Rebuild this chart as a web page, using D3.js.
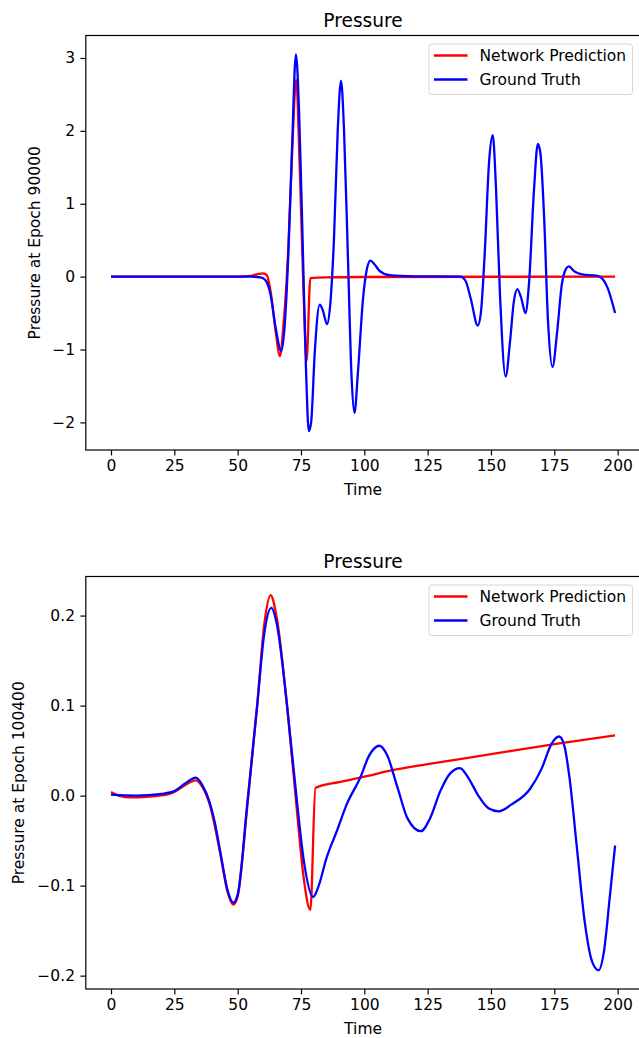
<!DOCTYPE html>
<html>
<head>
<meta charset="utf-8">
<script src="https://cdn.jsdelivr.net/npm/d3@7"></script>
<style>
  body { margin: 0; background: #fff; }
  svg text { font-family: "DejaVu Sans", sans-serif; fill: #000; }
</style>
</head>
<body>
<div id="chart"></div>
<script>
// x ticks shared by both panels
var timeTicks = [0, 25, 50, 75, 100, 125, 150, 175, 200];
var seriesNames = ["Network Prediction", "Ground Truth"];

// panel 1 (epoch 90000)
var topPredT = [0, 50, 55, 58, 60, 61.5, 63, 65, 66.7, 68, 70, 71.5, 73.1, 74.5, 76, 77.2, 78.7, 85, 100, 199];
var topPredV = [0, 0, 0.01, 0.035, 0.045, 0.02, -0.2, -0.75, -1.09, -0.7, 0.4, 1.7, 2.70, 1.5, -0.2, -1.16, -0.02, -0.01, -0.005, 0];
var topTruthT = [0, 55, 59, 61, 63, 65, 67.2, 68.5, 70, 71.5, 73, 74.3, 75.5, 77, 78.1, 79, 80.5, 82.4, 83.5, 85.3, 86.5, 88, 89.5, 90.8, 92, 93.5, 95, 96.1, 97.5, 99.5, 101, 102.4, 104, 106, 110, 120, 138, 140, 142, 144.8, 146, 147.5, 149.3, 150.7, 152, 153.5, 155.8, 157.5, 159, 160.4, 162, 163.6, 165, 167, 168.5, 169.5, 171, 172.5, 174.3, 176, 178, 179.5, 180.7, 183, 186, 192, 194, 196, 199];
var topTruthV = [0, 0, -0.01, -0.05, -0.25, -0.7, -1.02, -0.7, 0.3, 1.8, 3.05, 2.2, 0.7, -1.3, -2.12, -2.0, -1.0, -0.385, -0.45, -0.65, -0.4, 0.5, 2.0, 2.69, 2.0, 0.3, -1.4, -1.87, -1.3, -0.3, 0.1, 0.22, 0.17, 0.08, 0.02, 0.005, 0, -0.06, -0.3, -0.67, -0.5, 0.3, 1.6, 1.94, 1.2, -0.2, -1.37, -0.9, -0.35, -0.17, -0.3, -0.5, -0.1, 1.2, 1.82, 1.7, 0.8, -0.6, -1.24, -0.8, -0.1, 0.1, 0.14, 0.07, 0.03, 0.01, -0.03, -0.15, -0.50];
var topYTicks = [-2, -1, 0, 1, 2, 3];

// panel 2 (epoch 100400)
var botPredT = [0, 3, 8, 15, 22, 25, 30, 33.5, 36, 39, 43.3, 46, 48.3, 50, 53.8, 57.7, 60.5, 63, 65.3, 69.5, 73.5, 76, 78.7, 80.7, 90, 100, 111.5, 125, 150, 177, 199];
var botPredV = [0.004, 0, -0.002, -0.001, 0.001, 0.004, 0.013, 0.017, 0.01, -0.01, -0.067, -0.107, -0.121, -0.112, -0.012, 0.10, 0.19, 0.2226, 0.20, 0.10, -0.02, -0.09, -0.127, 0.0085, 0.015, 0.021, 0.0285, 0.035, 0.046, 0.058, 0.067];
var botTruthT = [0, 10, 20, 25, 30, 33.5, 36, 39, 41, 43.3, 46, 48.3, 50, 53.8, 57.7, 60.5, 63.3, 65.5, 69.5, 73.5, 76.1, 79.8, 82, 85, 89.2, 93, 98.4, 102, 106, 109, 113, 117, 122.3, 126, 130, 134, 137.8, 141, 145, 149, 153.1, 158, 165.4, 170, 174, 176.9, 179, 181, 184, 187, 190, 192.5, 194.5, 197, 199];
var botTruthV = [0.001, 0, 0.002, 0.005, 0.015, 0.020, 0.012, -0.008, -0.03, -0.065, -0.105, -0.119, -0.11, -0.009, 0.10, 0.18, 0.2085, 0.19, 0.10, -0.009, -0.072, -0.1126, -0.10, -0.07, -0.039, -0.01, 0.020, 0.045, 0.0554, 0.045, 0.01, -0.025, -0.0395, -0.025, 0.005, 0.025, 0.0306, 0.02, 0, -0.014, -0.0174, -0.01, 0.0074, 0.03, 0.058, 0.0657, 0.055, 0.02, -0.06, -0.14, -0.185, -0.194, -0.175, -0.11, -0.0554];
var botYTicks = [-0.2, -0.1, 0.0, 0.1, 0.2];

var W = 639, H = 1038;
var svg = d3.select("#chart").append("svg")
    .attr("width", W)
    .attr("height", H);

function zip(ts, vs) {
    return ts.map(function(t, i) { return [t, vs[i]]; });
}

function drawPanel(opt) {
    var left = 85.8, right = 640.3, top = opt.top, bottom = opt.bottom;
    var pred = zip(opt.predT, opt.predV), truth = zip(opt.truthT, opt.truthV);
    var all = pred.concat(truth);
    var ext = d3.extent(all, function(d) { return d[1]; });
    var pad = (ext[1] - ext[0]) * 0.05;

    var x = d3.scaleLinear().domain([-9.95, 208.95]).range([left, right]);
    var y = d3.scaleLinear().domain([ext[0] - pad, ext[1] + pad]).range([bottom, top]);

    var g = svg.append("g");

    var line = d3.line()
        .x(function(d) { return x(d[0]); })
        .y(function(d) { return y(d[1]); })
        .curve(d3.curveMonotoneX);

    g.append("path").datum(pred)
        .attr("d", line)
        .attr("fill", "none")
        .attr("stroke", "#ff0000")
        .attr("stroke-width", 2.3)
        .attr("stroke-linejoin", "round");
    g.append("path").datum(truth)
        .attr("d", line)
        .attr("fill", "none")
        .attr("stroke", "#0000ff")
        .attr("stroke-width", 2.3)
        .attr("stroke-linejoin", "round");

    // axes
    var xa = g.append("g")
        .attr("transform", "translate(0," + bottom + ")")
        .call(d3.axisBottom(x).tickValues(timeTicks).tickSize(5.4).tickPadding(5).tickFormat(d3.format("d")));
    var ya = g.append("g")
        .attr("transform", "translate(" + left + ",0)")
        .call(d3.axisLeft(y).tickValues(opt.yTicks).tickSize(5.4).tickPadding(5.4).tickFormat(d3.format(opt.yFmt)));
    [xa, ya].forEach(function(a) {
        a.select(".domain").remove();
        a.selectAll(".tick line").attr("stroke", "#000").attr("stroke-width", 1.2);
        a.selectAll(".tick text").attr("font-size", 15.5).attr("fill", "#000");
    });

    // spines
    g.append("rect")
        .attr("x", left).attr("y", top)
        .attr("width", right - left).attr("height", bottom - top)
        .attr("fill", "none").attr("stroke", "#000").attr("stroke-width", 1.2);

    g.append("text")
        .attr("x", (left + right) / 2).attr("y", top - 9)
        .attr("text-anchor", "middle")
        .attr("font-size", 18.6)
        .text("Pressure");

    g.append("text")
        .attr("x", (left + right) / 2).attr("y", bottom + 45)
        .attr("text-anchor", "middle")
        .attr("font-size", 15.5)
        .text("Time");

    g.append("text")
        .attr("transform", "translate(" + opt.ylabX + "," + (top + bottom) / 2 + ") rotate(-90)")
        .attr("text-anchor", "middle")
        .attr("font-size", 15.5)
        .text(opt.ylabel);

    // legend
    var lg = g.append("g").attr("transform", "translate(429," + (top + 8.5) + ")");
    lg.append("rect")
        .attr("width", 203.5).attr("height", 50.5)
        .attr("rx", 3)
        .attr("fill", "#fff").attr("fill-opacity", 0.8)
        .attr("stroke", "#d6d6d6").attr("stroke-width", 1);
    var colors = ["#ff0000", "#0000ff"];
    seriesNames.forEach(function(name, i) {
        var yy = 11.5 + i * 24;
        lg.append("line")
            .attr("x1", 5).attr("x2", 38.5)
            .attr("y1", yy).attr("y2", yy)
            .attr("stroke", colors[i]).attr("stroke-width", 2.3);
        lg.append("text")
            .attr("x", 50.5).attr("y", yy)
            .attr("dy", "0.36em")
            .attr("font-size", 15.5)
            .text(name);
    });
}

drawPanel({
    top: 35.5, bottom: 450,
    predT: topPredT, predV: topPredV,
    truthT: topTruthT, truthV: topTruthV,
    yTicks: topYTicks, yFmt: "d",
    ylabel: "Pressure at Epoch 90000", ylabX: 40
});

drawPanel({
    top: 576.5, bottom: 989,
    predT: botPredT, predV: botPredV,
    truthT: botTruthT, truthV: botTruthV,
    yTicks: botYTicks, yFmt: ".1f",
    ylabel: "Pressure at Epoch 100400", ylabX: 24
});
</script>
</body>
</html>
